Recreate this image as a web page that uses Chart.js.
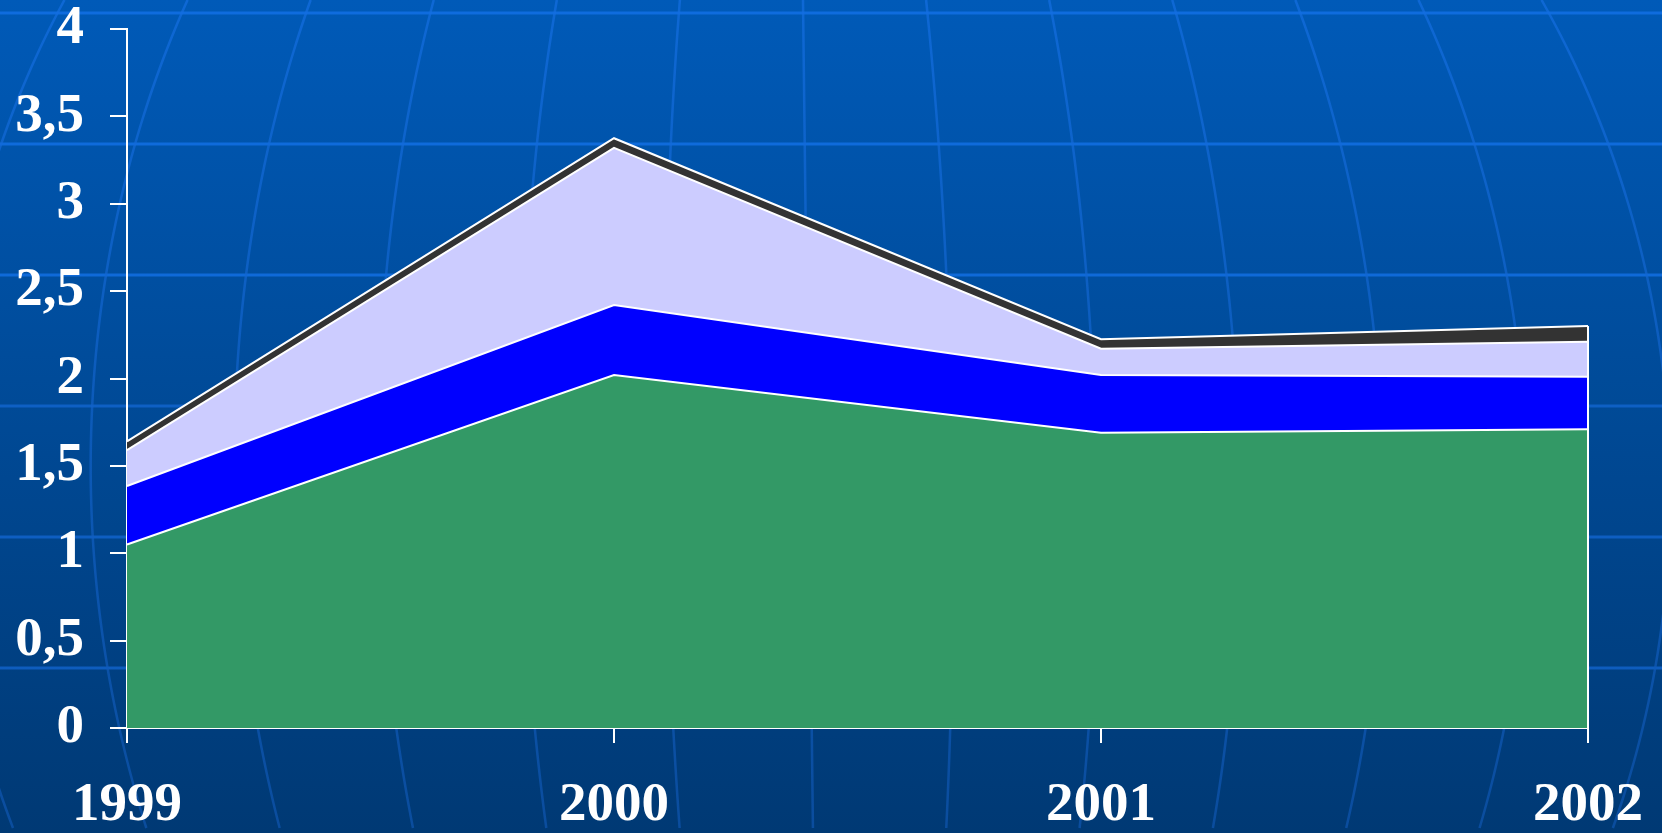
<!DOCTYPE html>
<html>
<head>
<meta charset="utf-8">
<script src="https://cdn.jsdelivr.net/npm/chart.js@4"></script>
<style>
html,body{margin:0;padding:0;background:#00488f;}
#wrap{width:1662px;height:833px;}
</style>
</head>
<body>
<div id="wrap"><canvas id="c" width="1662" height="833"></canvas></div>
<script>
const years = ['1999','2000','2001','2002'];
const yTicks = ['0','0,5','1','1,5','2','2,5','3','3,5','4'];
const seriesGreen    = [1.05, 2.02, 1.69, 1.71];
const seriesBlue     = [0.335, 0.40, 0.33, 0.30];
const seriesLavender = [0.205, 0.90, 0.15, 0.20];
const seriesDark     = [0.05, 0.055, 0.055, 0.09];

const F = {family:"'Liberation Serif','Times New Roman',serif", size:55, weight:'bold'};

// template background: gradient, latitude lines and globe meridians
const bgPlugin = {
  id:'bg',
  beforeDraw(chart){
    const ctx = chart.ctx, W = chart.width, H = chart.height;
    ctx.save();
    const g = ctx.createLinearGradient(0,0,0,H);
    g.addColorStop(0,'#005ab8'); g.addColorStop(1,'#003974');
    ctx.fillStyle = g; ctx.fillRect(0,0,W,H);
    ctx.lineWidth = 3;
    [13,144,275,406,537,668].forEach(y=>{
      ctx.strokeStyle = y<400 ? 'rgba(20,115,235,0.75)' : 'rgba(20,105,215,0.7)';
      ctx.beginPath(); ctx.moveTo(0,y); ctx.lineTo(W,y); ctx.stroke();
    });
    ctx.lineWidth = 2.5;
    for(let i=-7;i<=7;i++){
      ctx.beginPath();
      for(let y=0;y<=H;y+=6){
        const d=(y-481)/934, s=143.6*Math.sqrt(Math.max(0,1-d*d));
        const x=803+0.012*y+i*s;
        y===0?ctx.moveTo(x,y):ctx.lineTo(x,y);
      }
      const gl = ctx.createLinearGradient(0,0,0,H);
      gl.addColorStop(0,'rgba(20,110,225,0.7)'); gl.addColorStop(1,'rgba(15,85,175,0.7)');
      ctx.strokeStyle = gl; ctx.stroke();
    }
    ctx.restore();
  },
  afterDatasetsDraw(chart){
    // white outline at the right end of the stacked areas
    const x = chart.scales.x, y = chart.scales.y, ctx = chart.ctx;
    const n = years.length-1;
    const top = seriesGreen[n]+seriesBlue[n]+seriesLavender[n]+seriesDark[n];
    ctx.save();
    ctx.strokeStyle='#ffffff'; ctx.lineWidth=2;
    ctx.beginPath();
    ctx.moveTo(x.getPixelForValue(n), y.getPixelForValue(top));
    ctx.lineTo(x.getPixelForValue(n), y.getPixelForValue(0));
    ctx.stroke();
    ctx.restore();
  }
};

const mk = (data,color,fill)=>({data,backgroundColor:color,borderColor:'#ffffff',borderWidth:2,pointRadius:0,tension:0,fill});

new Chart(document.getElementById('c'),{
  type:'line',
  data:{labels:years,datasets:[
    mk(seriesGreen,'#339966','origin'),
    mk(seriesBlue,'#0000ff','-1'),
    mk(seriesLavender,'#ccccff','-1'),
    mk(seriesDark,'#333333','-1')
  ]},
  options:{
    responsive:false,animation:false,
    layout:{padding:{top:29,right:74,bottom:0,left:0}},
    plugins:{legend:{display:false},tooltip:{enabled:false}},
    scales:{
      x:{offset:false,
        grid:{drawOnChartArea:false,drawTicks:true,tickLength:15,color:'#ffffff',lineWidth:2},
        border:{color:'#ffffff',width:2},
        ticks:{color:'#ffffff',font:F,padding:30,maxRotation:0,autoSkip:false},
        afterFit:s=>{s.height=105;s.paddingLeft=0;s.paddingRight=0;}},
      y:{stacked:true,min:0,max:4,
        grid:{drawOnChartArea:false,drawTicks:true,tickLength:17,color:'#ffffff',lineWidth:2},
        border:{color:'#ffffff',width:2},
        ticks:{stepSize:0.5,color:'#ffffff',font:F,padding:26,callback:(v,i)=>yTicks[i]},
        afterFit:s=>{s.width=127;s.paddingTop=0;s.paddingBottom=0;}}
    }
  },
  plugins:[bgPlugin]
});
</script>
</body>
</html>
